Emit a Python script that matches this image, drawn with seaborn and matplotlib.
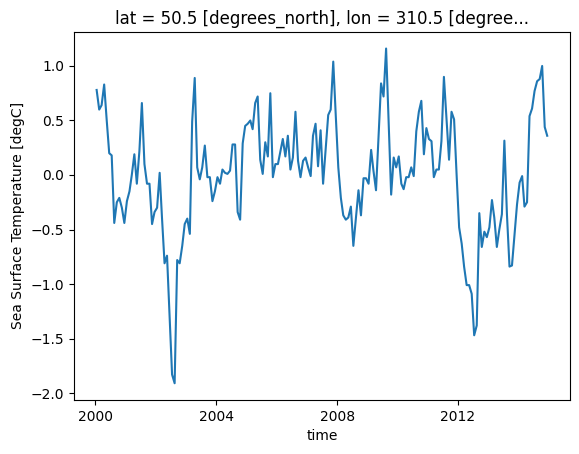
import numpy as np
import matplotlib
matplotlib.use('Agg')
import matplotlib.pyplot as plt
import matplotlib.dates as mdates
import pandas as pd
import seaborn as sns

# Monthly SST anomaly at one grid point, Jan 2000 - Dec 2014
start_month = '2000-01-01'
n_months = 180

sst = [
    0.78, 0.60, 0.64, 0.83, 0.51, 0.20, 0.18, -0.44, -0.25, -0.21, -0.30, -0.44,
    -0.24, -0.15, 0.00, 0.19, -0.08, 0.22, 0.66, 0.10, -0.08, -0.08, -0.45, -0.34,
    -0.30, 0.02, -0.39, -0.81, -0.74, -1.30, -1.83, -1.91, -0.78, -0.81, -0.65, -0.45,
    -0.40, -0.54, 0.49, 0.89, 0.07, -0.04, 0.07, 0.27, -0.02, -0.02, -0.24, -0.15,
    -0.02, -0.08, 0.05, 0.02, 0.01, 0.04, 0.28, 0.28, -0.34, -0.41, 0.29, 0.45,
    0.47, 0.50, 0.42, 0.66, 0.72, 0.14, 0.01, 0.30, 0.17, 0.75, -0.02, 0.10,
    0.10, 0.22, 0.33, 0.17, 0.36, 0.05, 0.16, 0.58, 0.13, -0.02, 0.13, 0.16,
    0.07, -0.01, 0.36, 0.47, 0.08, 0.41, -0.08, 0.24, 0.55, 0.60, 1.04, 0.55,
    0.07, -0.21, -0.37, -0.41, -0.39, -0.29, -0.65, -0.39, -0.14, -0.37, -0.03, -0.03,
    -0.08, 0.23, 0.04, -0.14, 0.35, 0.84, 0.72, 1.16, 0.48, -0.18, 0.16, 0.07,
    0.17, -0.08, -0.13, -0.02, -0.02, 0.07, -0.01, 0.40, 0.58, 0.68, 0.19, 0.43,
    0.33, 0.31, -0.02, 0.05, 0.05, 0.31, 0.90, 0.52, 0.14, 0.58, 0.51, 0.01,
    -0.48, -0.63, -0.84, -1.01, -1.01, -1.09, -1.47, -1.38, -0.35, -0.66, -0.52, -0.57,
    -0.48, -0.23, -0.39, -0.66, -0.50, -0.36, 0.315, -0.36, -0.84, -0.83, -0.54, -0.27,
    -0.07, -0.01, -0.29, -0.25, 0.54, 0.61, 0.77, 0.86, 0.88, 1.00, 0.44, 0.36,
]

# mid-month time stamps
time = pd.date_range(start_month, periods=n_months, freq='MS') + pd.Timedelta(days=14)
df = pd.DataFrame({'time': time, 'sst': sst})

fig, ax = plt.subplots(figsize=(5.79, 4.54), dpi=100)
fig.subplots_adjust(left=0.128, right=0.984, top=0.930, bottom=0.119)

sns.lineplot(data=df, x='time', y='sst', ax=ax, color='#1f77b4', linewidth=1.5)

# ticks every 4 years like the reference
ax.xaxis.set_major_locator(mdates.YearLocator(4))
ax.xaxis.set_major_formatter(mdates.DateFormatter('%Y'))

ax.set_xlabel('time')
ax.set_ylabel('Sea Surface Temperature [degC]')
ax.set_title('lat = 50.5 [degrees_north], lon = 310.5 [degree...')

plt.savefig('out.png', dpi=100)
